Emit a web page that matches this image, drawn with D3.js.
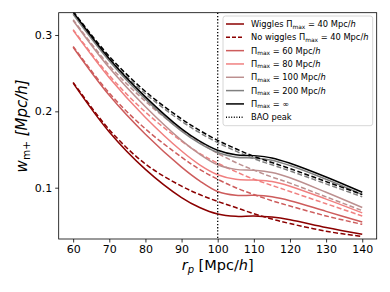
<!DOCTYPE html>
<html><head><meta charset="utf-8">
<script src="https://cdn.jsdelivr.net/npm/d3@7"></script>
<style>body{margin:0;background:#fff}svg{display:block}text{font-family:"DejaVu Sans",sans-serif}</style>
</head><body><svg id="c" width="390" height="292"></svg>
<script>
const rGrid = [60,70,80,90,95,100,105,110,115,120,130,140];
const pimaxLabels = ["40","60","80","100","200","\u221e"];
const colors = ["#8b0000","#cd5c5c","#f08080","#bc8f8f","#808080","#000000"];
// wiggles (solid)
const wig40  = [0.237,0.173,0.124,0.087,0.074,0.0655,0.0625,0.063,0.0615,0.058,0.048,0.039];
const wig60  = [0.284,0.221,0.170,0.127,0.109,0.095,0.090,0.090,0.088,0.083,0.069,0.055];
const wig80  = [0.306,0.244,0.192,0.148,0.130,0.117,0.111,0.110,0.108,0.102,0.085,0.067];
const wig100 = [0.319,0.257,0.206,0.162,0.144,0.130,0.124,0.123,0.120,0.113,0.094,0.074];
const wig200 = [0.327,0.266,0.216,0.174,0.158,0.146,0.140,0.139,0.136,0.129,0.111,0.091];
const wigInf = [0.330,0.269,0.219,0.177,0.161,0.149,0.143,0.142,0.139,0.132,0.114,0.094];
// no wiggles (dashed)
const now40  = [0.238,0.176,0.131,0.102,0.091,0.082,0.074,0.066,0.059,0.053,0.043,0.036];
const now60  = [0.285,0.224,0.177,0.140,0.124,0.111,0.100,0.091,0.083,0.076,0.063,0.052];
const now80  = [0.307,0.247,0.199,0.161,0.145,0.132,0.121,0.111,0.103,0.095,0.079,0.063];
const now100 = [0.320,0.260,0.213,0.175,0.159,0.145,0.133,0.123,0.114,0.106,0.088,0.070];
const now200 = [0.328,0.269,0.223,0.187,0.172,0.159,0.148,0.138,0.130,0.122,0.105,0.088];
const nowInf = [0.331,0.272,0.226,0.190,0.175,0.162,0.151,0.141,0.133,0.125,0.108,0.091];
const baoPeak = 100;
const xTicks = [60,70,80,90,100,110,120,130,140];
const yTicks = [0.1,0.2,0.3];

const wig = [wig40,wig60,wig80,wig100,wig200,wigInf];
const now = [now40,now60,now80,now100,now200,nowInf];

const svg = d3.select("#c");
const L=58.7,R=376.7,T=12.7,B=239;
const x = d3.scaleLinear().domain([56,144]).range([L,R]);
const y = d3.scaleLinear().domain([0.0328,0.3292]).range([B,T]);

svg.append("clipPath").attr("id","cp").append("rect").attr("x",L).attr("y",T).attr("width",R-L).attr("height",B-T);
const g = svg.append("g").attr("clip-path","url(#cp)");
const line = d3.line().x((d,i)=>x(rGrid[i])).y(d=>y(d)).curve(d3.curveCatmullRom.alpha(0.5));

for(let k=0;k<6;k++){
  g.append("path").attr("d",line(wig[k])).attr("fill","none").attr("stroke",colors[k]).attr("stroke-width",1.5);
  g.append("path").attr("d",line(now[k])).attr("fill","none").attr("stroke",colors[k]).attr("stroke-width",1.5).attr("stroke-dasharray","5,2.4");
}
g.append("line").attr("x1",x(baoPeak)).attr("x2",x(baoPeak)).attr("y1",T).attr("y2",B).attr("stroke","#000").attr("stroke-width",1.3).attr("stroke-dasharray","1.3,1.9");

// axes
const xa = svg.append("g").attr("transform",`translate(0,${B})`).call(d3.axisBottom(x).tickValues(xTicks).tickSize(3.5).tickPadding(3).tickFormat(d3.format("d")));
const ya = svg.append("g").attr("transform",`translate(${L},0)`).call(d3.axisLeft(y).tickValues(yTicks).tickSize(3.5).tickPadding(3).tickFormat(d3.format(".1f")));
[xa,ya].forEach(a=>{a.select(".domain").remove();a.selectAll("text").attr("font-size",11).attr("fill","#000").attr("font-family","DejaVu Sans");a.selectAll("line").attr("stroke","#000").attr("stroke-width",0.8);});
svg.append("rect").attr("x",L).attr("y",T).attr("width",R-L).attr("height",B-T).attr("fill","none").attr("stroke","#000").attr("stroke-width",0.8);

// axis labels
const xl = svg.append("text").attr("x",(L+R)/2).attr("y",270).attr("text-anchor","middle").attr("font-size",14.5);
xl.append("tspan").attr("font-style","italic").text("r");
xl.append("tspan").attr("font-style","italic").attr("font-size",10).attr("dy",3).text("p");
xl.append("tspan").attr("dy",-3).text(" [Mpc/");
xl.append("tspan").attr("font-style","italic").text("h");
xl.append("tspan").text("]");

const yl = svg.append("text").attr("transform",`translate(27,${(T+B)/2}) rotate(-90)`).attr("text-anchor","middle").attr("font-size",15);
yl.append("tspan").attr("font-style","italic").text("w");
yl.append("tspan").attr("font-size",10.5).attr("dy",3).text("m+");
yl.append("tspan").attr("dy",-3).attr("font-style","italic").text(" [Mpc/h]");

// legend
const lg = svg.append("g");
lg.append("rect").attr("x",223).attr("y",16).attr("width",149.7).attr("height",109.7).attr("rx",2.5).attr("fill","#fff").attr("fill-opacity",0.8).attr("stroke","#cccccc").attr("stroke-width",0.8);
const entries = [
  {c:colors[0],dash:null,pre:"Wiggles ",val:pimaxLabels[0]},
  {c:colors[0],dash:"4,2",pre:"No wiggles ",val:pimaxLabels[0]},
  {c:colors[1],dash:null,pre:"",val:pimaxLabels[1]},
  {c:colors[2],dash:null,pre:"",val:pimaxLabels[2]},
  {c:colors[3],dash:null,pre:"",val:pimaxLabels[3]},
  {c:colors[4],dash:null,pre:"",val:pimaxLabels[4]},
  {c:colors[5],dash:null,pre:"",val:pimaxLabels[5]},
  {c:"#000",dash:"1,1.6",bao:true}
];
entries.forEach((e,i)=>{
  const yy = 24 + i*13.32;
  lg.append("line").attr("x1",226).attr("x2",244).attr("y1",yy).attr("y2",yy).attr("stroke",e.c).attr("stroke-width",1.5).attr("stroke-dasharray",e.dash);
  const t = lg.append("text").attr("x",251).attr("y",yy+3).attr("font-size",8.3);
  if(e.bao){t.text("BAO peak");return;}
  t.append("tspan").text(e.pre+"\u03a0");
  t.append("tspan").attr("font-size",5.9).attr("dy",1.5).text("max");
  t.append("tspan").attr("dy",-1.5).text(" = "+e.val+(e.val==="\u221e"?"":" Mpc/"));
  if(e.val!=="\u221e") t.append("tspan").attr("font-style","italic").text("h");
});
</script></body></html>
